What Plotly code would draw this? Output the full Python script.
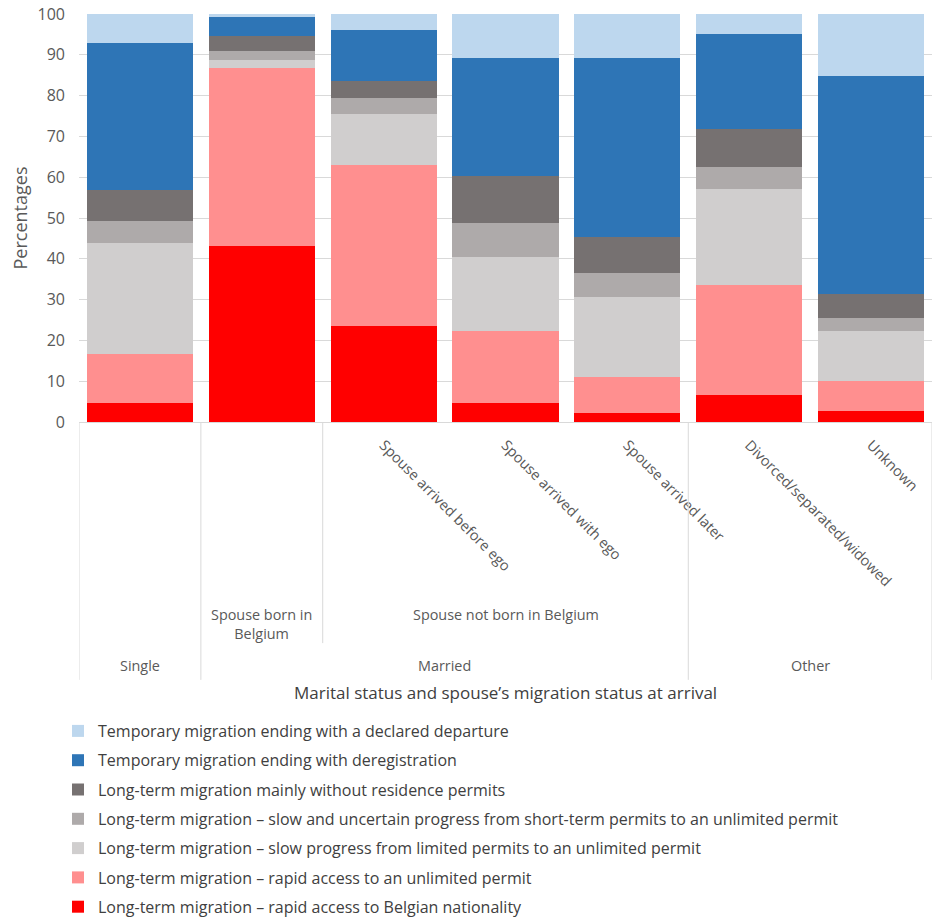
import plotly.graph_objects as go

categories = ["Single", "Spouse born in Belgium", "Spouse arrived before ego",
              "Spouse arrived with ego", "Spouse arrived later",
              "Divorced/separated/widowed", "Unknown"]
tick_labels = ["", "", "Spouse arrived before ego", "Spouse arrived with ego",
               "Spouse arrived later", "Divorced/separated/widowed", "Unknown"]

series_names = [
    "Long-term migration – rapid access to Belgian nationality",
    "Long-term migration – rapid access to an unlimited permit",
    "Long-term migration – slow progress from limited permits to an unlimited permit",
    "Long-term migration – slow and uncertain progress from short-term permits to an unlimited permit",
    "Long-term migration mainly without residence permits",
    "Temporary migration ending with deregistration",
    "Temporary migration ending with a declared departure",
]
nationality = [4.7, 43.2, 23.5, 4.7, 2.3, 6.5, 2.6]
unlimited_rapid = [11.9, 43.6, 39.5, 17.5, 8.7, 27.0, 7.4]
slow_progress = [27.2, 1.9, 12.6, 18.2, 19.6, 23.7, 12.4]
slow_uncertain = [5.5, 2.3, 3.9, 8.3, 5.8, 5.3, 3.1]
no_permits = [7.5, 3.5, 4.2, 11.7, 8.9, 9.3, 5.8]
deregistration = [36.0, 4.7, 12.5, 28.9, 44.0, 23.2, 53.4]
declared_departure = [7.2, 0.8, 3.8, 10.7, 10.7, 5.0, 15.3]
series_values = [nationality, unlimited_rapid, slow_progress, slow_uncertain,
                 no_permits, deregistration, declared_departure]
colors = ["#FF0000", "#FF8F8F", "#D0CECE", "#AEAAAA", "#767171", "#2E75B6", "#BDD7EE"]

level2 = [("Spouse born in<br>Belgium", 1.0, -0.495), ("Spouse not born in Belgium", 3.0, -0.471)]
level3 = [("Single", 0.0), ("Married", 2.5), ("Other", 5.5)]

x = list(range(len(categories)))
FONT = "Open Sans"
GRAY = "#595959"

fig = go.Figure()
n = len(series_names)
for i, (name, vals, col) in enumerate(zip(series_names, series_values, colors)):
    fig.add_trace(go.Bar(x=x, y=vals, name=name, marker_color=col,
                         marker_line_width=0, legendgroup=f"g{i}",
                         legendrank=n - i, hovertext=categories))

annotations = []
for txt, xc, yc in level2:
    annotations.append(dict(x=xc, xref="x", y=yc, yref="paper", text=txt,
                            showarrow=False, yanchor="middle",
                            font=dict(size=14.4, color=GRAY, family=FONT)))
for txt, xc in level3:
    annotations.append(dict(x=xc, xref="x", y=-0.597, yref="paper", text=txt,
                            showarrow=False, yanchor="middle",
                            font=dict(size=14.4, color=GRAY, family=FONT)))
annotations.append(dict(x=0.5, xref="paper", y=-0.662, yref="paper",
                        text="Marital status and spouse’s migration status at arrival",
                        showarrow=False, yanchor="middle",
                        font=dict(size=17, color="#404040", family=FONT)))

shapes = []
for xv, yb in [(-0.5, -0.632), (0.5, -0.632), (1.5, -0.542), (4.5, -0.632), (6.5, -0.632)]:
    shapes.append(dict(type="line", xref="x", yref="paper", x0=xv, x1=xv,
                       y0=0, y1=yb, line=dict(color="#D9D9D9", width=1)))

fig.update_layout(
    width=934, height=921,
    margin=dict(l=79, r=2, t=14, b=499),
    barmode="stack", bargap=0.13,
    plot_bgcolor="white", paper_bgcolor="white",
    font=dict(family=FONT, color=GRAY),
    showlegend=True,
    legend=dict(orientation="v", x=-0.0246, xanchor="left",
                y=1 - 714 / 921, yref="container", yanchor="top",
                traceorder="grouped", tracegroupgap=5.5,
                font=dict(size=16, color="#404040", family=FONT),
                itemwidth=30, bgcolor="rgba(0,0,0,0)"),
    annotations=annotations, shapes=shapes,
)
fig.update_xaxes(range=[-0.5, 6.5], tickvals=x, ticktext=tick_labels, tickangle=45,
                 showgrid=False, zeroline=False, showline=True, linecolor="#D9D9D9",
                 ticks="", ticklabelstandoff=8, automargin=False,
                 tickfont=dict(size=14.5, color=GRAY, family=FONT))
fig.update_yaxes(range=[0, 100], dtick=10, showgrid=True, gridcolor="#D9D9D9",
                 zeroline=False, showline=False, ticks="", ticklabelstandoff=13,
                 automargin=False,
                 tickfont=dict(size=16, color=GRAY, family=FONT),
                 title=dict(text="Percentages", font=dict(size=18, color=GRAY, family=FONT),
                            standoff=5))

fig.write_html("out.html")
